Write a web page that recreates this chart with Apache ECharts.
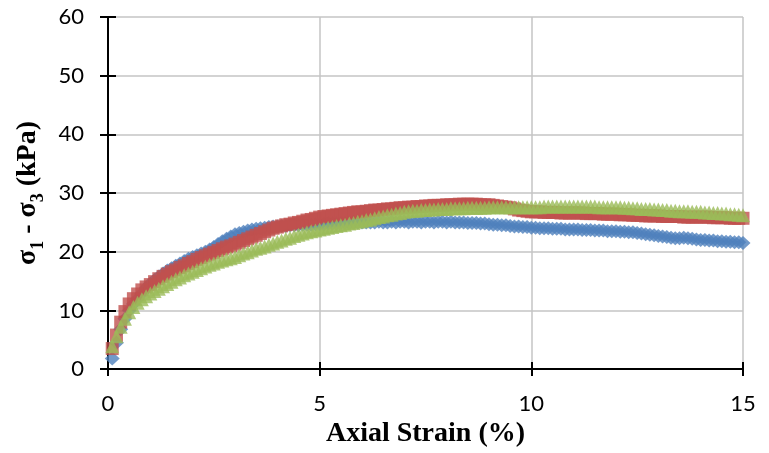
<!DOCTYPE html>
<html>
<head>
<meta charset="utf-8">
<script src="https://cdn.jsdelivr.net/npm/echarts@6/dist/echarts.min.js"></script>
<style>html,body{margin:0;padding:0;background:#fff;}#c{width:769px;height:453px;}</style>
</head>
<body>
<div id="c"></div>
<script>
const strain = [
0.1,0.2,0.3,0.4,0.5,0.6,0.7,0.8,0.9,1.0,
1.1,1.2,1.3,1.4,1.5,1.6,1.7,1.8,1.9,2.0,
2.1,2.2,2.3,2.4,2.5,2.6,2.7,2.8,2.9,3.0,
3.1,3.2,3.3,3.4,3.5,3.6,3.7,3.8,3.9,4.0,
4.1,4.2,4.3,4.4,4.5,4.6,4.7,4.8,4.9,5.0,
5.1,5.2,5.3,5.4,5.5,5.6,5.7,5.8,5.9,6.0,
6.1,6.2,6.3,6.4,6.5,6.6,6.7,6.8,6.9,7.0,
7.1,7.2,7.3,7.4,7.5,7.6,7.7,7.8,7.9,8.0,
8.1,8.2,8.3,8.4,8.5,8.6,8.7,8.8,8.9,9.0,
9.1,9.2,9.3,9.4,9.5,9.6,9.7,9.8,9.9,10.0,
10.1,10.2,10.3,10.4,10.5,10.6,10.7,10.8,10.9,11.0,
11.1,11.2,11.3,11.4,11.5,11.6,11.7,11.8,11.9,12.0,
12.1,12.2,12.3,12.4,12.5,12.6,12.7,12.8,12.9,13.0,
13.1,13.2,13.3,13.4,13.5,13.6,13.7,13.8,13.9,14.0,
14.1,14.2,14.3,14.4,14.5,14.6,14.7,14.8,14.9,15.0
];
const blueStress = [
1.8,4.5,6.8,8.6,10.0,11.1,12.0,12.9,13.8,14.6,
15.2,15.8,16.3,16.8,17.2,17.6,18.0,18.4,18.8,19.1,
19.4,19.7,20.0,20.4,20.8,21.3,21.8,22.2,22.6,23.0,
23.2,23.4,23.6,23.8,23.9,24.0,24.1,24.2,24.3,24.3,
24.4,24.4,24.5,24.5,24.5,24.6,24.6,24.6,24.7,24.7,
24.7,24.8,24.8,24.8,24.9,24.9,24.9,25.0,25.0,25.0,
25.0,25.0,25.0,25.1,25.0,25.0,25.1,25.0,25.1,25.1,
25.0,25.1,25.1,25.0,25.1,25.1,25.0,25.1,25.1,25.0,
25.1,25.0,25.0,25.0,24.9,24.9,24.9,24.8,24.8,24.7,
24.6,24.6,24.5,24.5,24.4,24.3,24.3,24.2,24.2,24.1,
24.1,24.0,24.0,24.0,23.9,23.9,23.9,23.8,23.8,23.8,
23.8,23.7,23.7,23.7,23.6,23.6,23.6,23.5,23.5,23.5,
23.4,23.4,23.3,23.3,23.2,23.1,23.0,22.9,22.8,22.7,
22.6,22.5,22.4,22.3,22.3,22.4,22.3,22.2,22.1,22.0,
22.0,21.9,21.9,21.8,21.8,21.7,21.7,21.6,21.6,21.5
];
const redStress = [
3.5,5.8,8.0,9.8,11.1,12.0,12.8,13.5,14.0,14.4,
14.9,15.4,15.8,16.2,16.6,16.9,17.3,17.6,18.0,18.3,
18.7,19.0,19.3,19.6,19.9,20.2,20.5,20.8,21.0,21.3,
21.6,21.9,22.2,22.5,22.8,23.1,23.4,23.7,24.0,24.2,
24.4,24.6,24.7,24.9,25.0,25.2,25.4,25.5,25.7,25.9,
26.0,26.1,26.2,26.3,26.4,26.5,26.6,26.7,26.8,26.8,
26.9,27.0,27.1,27.1,27.2,27.3,27.3,27.4,27.5,27.5,
27.6,27.6,27.7,27.7,27.8,27.8,27.9,27.9,27.9,28.0,
28.0,28.0,28.1,28.1,28.1,28.1,28.1,28.0,28.0,28.0,
27.9,27.8,27.7,27.6,27.5,27.3,27.1,27.0,26.9,26.8,
26.8,26.8,26.7,26.7,26.7,26.7,26.6,26.6,26.6,26.6,
26.6,26.6,26.5,26.5,26.5,26.5,26.4,26.4,26.4,26.4,
26.3,26.3,26.3,26.2,26.2,26.2,26.1,26.1,26.1,26.1,
26.0,26.0,26.0,26.0,26.0,25.9,25.9,25.9,25.9,25.9,
25.9,25.9,25.8,25.8,25.8,25.8,25.7,25.7,25.7,25.7
];
const greenStress = [
3.9,5.6,7.2,8.6,9.7,10.6,11.3,11.9,12.4,12.9,
13.3,13.7,14.1,14.5,14.9,15.3,15.6,16.0,16.3,16.6,
16.9,17.2,17.5,17.8,18.0,18.3,18.5,18.7,18.9,19.1,
19.4,19.7,19.9,20.2,20.5,20.7,20.9,21.2,21.4,21.7,
21.9,22.2,22.4,22.7,22.9,23.1,23.3,23.5,23.6,23.8,
23.9,24.1,24.2,24.4,24.5,24.6,24.8,24.9,25.1,25.2,
25.4,25.5,25.7,25.9,26.0,26.2,26.3,26.5,26.6,26.8,
26.9,27.0,27.0,27.1,27.1,27.2,27.2,27.3,27.3,27.3,
27.4,27.4,27.4,27.4,27.5,27.5,27.5,27.5,27.5,27.6,
27.6,27.6,27.6,27.6,27.6,27.6,27.6,27.6,27.6,27.6,
27.6,27.6,27.7,27.7,27.7,27.7,27.7,27.7,27.7,27.7,
27.7,27.7,27.7,27.7,27.7,27.6,27.6,27.6,27.6,27.6,
27.6,27.5,27.5,27.4,27.4,27.3,27.3,27.3,27.2,27.2,
27.1,27.1,27.0,27.0,26.9,26.9,26.9,26.8,26.8,26.8,
26.7,26.7,26.6,26.6,26.5,26.5,26.4,26.4,26.3,26.2
];
const xTitle = 'Axial Strain (%)';

function pairs(xs, ys){ return xs.map((x,i)=>[x, ys[i]]); }

const chart = echarts.init(document.getElementById('c'));
const tickFont = {fontFamily:'Lato', fontSize:22, color:'#000'};
const titleFont = {fontFamily:'Liberation Serif', fontWeight:'bold', fontSize:28, color:'#000'};
const gridLine = {show:true, lineStyle:{color:'#C4C4C4', width:1.5}};
const blackLine = {show:true, onZero:false, lineStyle:{color:'#000', width:2}};
chart.setOption({
  animation:false,
  grid:{left:108, right:26, top:17, bottom:80, containLabel:false},
  xAxis:[{
    type:'value', min:0, max:15, interval:5,
    axisLine:blackLine,
    axisTick:{show:true, length:7, lineStyle:{color:'#000', width:2}},
    splitLine:gridLine,
    axisLabel:Object.assign({margin:24}, tickFont),
    name:xTitle, nameLocation:'middle', nameGap:49,
    nameTextStyle:titleFont
  },{
    type:'value', min:0, max:15, interval:5, position:'bottom',
    axisLine:{show:false},
    axisTick:{show:true, inside:true, length:7, lineStyle:{color:'#000', width:2}},
    splitLine:{show:false}, axisLabel:{show:false}
  }],
  yAxis:[{
    type:'value', min:0, max:60, interval:10,
    axisLine:blackLine,
    axisTick:{show:true, length:8, lineStyle:{color:'#000', width:2}},
    splitLine:gridLine,
    axisLabel:Object.assign({margin:24}, tickFont),
    name:'{a|σ}{s|1}{a| - σ}{s|3}{a| (kPa)}',
    nameLocation:'middle', nameGap:64, nameRotate:90,
    nameTextStyle:{
      rich:{
        a:{fontFamily:'Liberation Serif', fontWeight:'bold', fontSize:28, color:'#000', lineHeight:32, verticalAlign:'bottom'},
        s:{fontFamily:'Liberation Serif', fontWeight:'bold', fontSize:18, color:'#000', lineHeight:32, verticalAlign:'bottom', padding:[0,0,-6,0]}
      }
    }
  },{
    type:'value', min:0, max:60, interval:10, position:'left',
    axisLine:{show:false},
    axisTick:{show:true, inside:true, length:8, lineStyle:{color:'#000', width:2}},
    splitLine:{show:false}, axisLabel:{show:false}
  }],
  series:[
    {type:'scatter', name:'A', data:pairs(strain, blueStress), symbol:'diamond', symbolSize:[15,14],
     itemStyle:{color:'#4F81BD'}},
    {type:'scatter', name:'B', data:pairs(strain, redStress), symbol:'rect', symbolSize:13,
     itemStyle:{color:'#C0504D'}},
    {type:'scatter', name:'C', data:pairs(strain, greenStress), symbol:'triangle', symbolSize:14,
     itemStyle:{color:'#9BBB59'}}
  ]
});
</script>
</body>
</html>
